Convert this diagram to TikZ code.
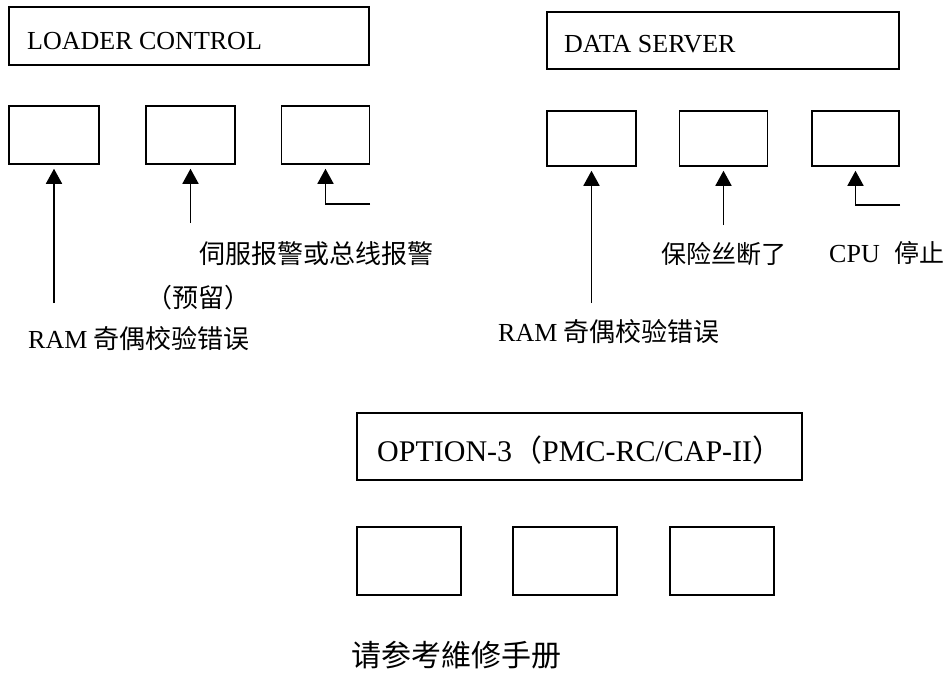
\documentclass[tikz,border=0pt]{standalone}
\usepackage{fontspec}
\setmainfont{Liberation Serif}
\newfontfamily\cjk{Noto Sans CJK SC}
\usetikzlibrary{arrows.meta}
\tikzset{
  box/.style={draw, line width=1.5pt, rectangle, inner sep=0pt},
  lbl/.style={inner sep=0pt, anchor=base west},
  arr/.style={line width=1.5pt, -{Triangle[width=16pt,length=15pt]}, shorten >=4pt},
  ln/.style={line width=1.5pt}
}
\newcommand{\fs}[1]{\fontsize{#1pt}{#1pt}\selectfont}
\begin{document}
\begin{tikzpicture}[x=1pt,y=-1pt]
\useasboundingbox (0,0) rectangle (948,677);
% top-left group
\node[box, minimum width=360pt, minimum height=58pt] (lc) at (189,36) {};
\node[lbl] (lct) at (27,50) {\fs{26}LOADER CONTROL};
\node[box, minimum width=90pt, minimum height=58pt] (la) at (54,135) {};
\node[box, minimum width=89pt, minimum height=58pt] (lb) at (190.5,135) {};
\node[box, minimum width=88pt, minimum height=58pt] (lcc) at (325.5,135) {};
\coordinate (la0) at (54,303);
\coordinate (lb0) at (190.5,223);
\coordinate (lc0) at (370,204);
\draw[arr] (la0) -- (la0 |- la.south);
\draw[arr] (lb0) -- (lb0 |- lb.south);
\draw[ln] (lc0) -| ([yshift=-15pt]lcc.south);
\draw[arr] (lc0 -| lcc.south) -- (lcc.south);
\node[lbl] (t1) at (199,263) {\cjk\fs{26}伺服报警或总线报警};
\node[inner sep=0pt, anchor=base] (t2) at (198,307) {\cjk\fs{26}（预留）};
\node[lbl] (t3) at (28,348) {\fs{26}RAM {\cjk 奇偶校验错误}};
% top-right group
\node[box, minimum width=352pt, minimum height=57pt] (ds) at (723,40.5) {};
\node[lbl] (dst) at (564,53) {\fs{26}DATA SERVER};
\node[box, minimum width=89pt, minimum height=55pt] (ra) at (591.5,138.5) {};
\node[box, minimum width=88pt, minimum height=55pt] (rb) at (723.5,138.5) {};
\node[box, minimum width=87pt, minimum height=55pt] (rc) at (855.5,138.5) {};
\coordinate (ra0) at (591.5,303);
\coordinate (rb0) at (723.5,225);
\coordinate (rc0) at (900,205);
\draw[arr] (ra0) -- (ra0 |- ra.south);
\draw[arr] (rb0) -- (rb0 |- rb.south);
\draw[ln] (rc0) -| ([yshift=-15pt]rc.south);
\draw[arr] (rc0 -| rc.south) -- (rc.south);
\node[lbl] (t4) at (661,263) {\cjk\fs{25}保险丝断了};
\node[lbl] (t5) at (829,262) {\fs{26}CPU\hspace{15pt}{\cjk\fs{25}停止}};
\node[lbl] (t6) at (498,341) {\fs{26}RAM {\cjk 奇偶校验错误}};
% bottom group
\node[box, minimum width=445pt, minimum height=67pt] (op) at (579.5,446.5) {};
\node[lbl] (opt) at (377,461) {\fs{30}OPTION-3{\cjk （}PMC-RC/CAP-II{\cjk ）}};
\node[box, minimum width=104pt, minimum height=68pt] (oa) at (409,561) {};
\node[box, minimum width=104pt, minimum height=68pt] (ob) at (565,561) {};
\node[box, minimum width=104pt, minimum height=68pt] (oc) at (722,561) {};
\node[lbl] (t7) at (351,666) {\cjk\fs{30}请参考維修手册};
\end{tikzpicture}
\end{document}
